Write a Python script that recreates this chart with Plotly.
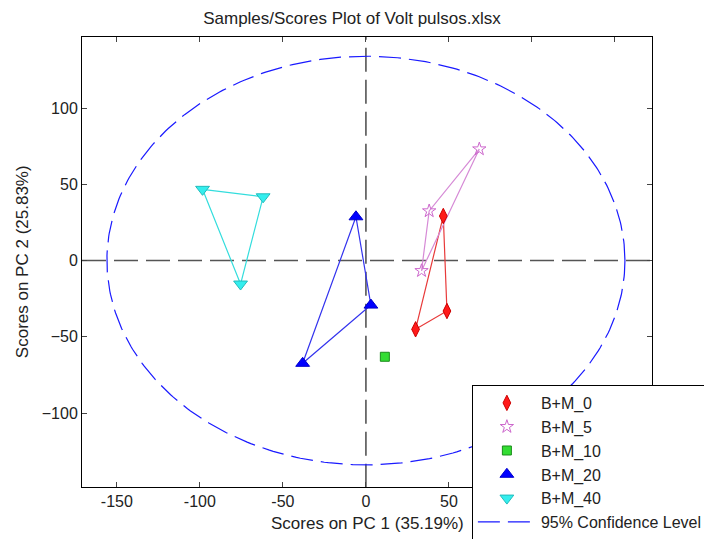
import numpy as np
import plotly.graph_objects as go

# PCA scores (PC1, PC2) per sample group
groups = ["B+M_0", "B+M_5", "B+M_10", "B+M_20", "B+M_40"]
pc1_bm0 = [46.6, 48.8, 29.9]
pc2_bm0 = [29.2, -33.1, -45.1]
pc1_bm5 = [68.3, 38.1, 33.5]
pc2_bm5 = [73.1, 32.5, -6.7]
pc1_bm10 = [11.4]
pc2_bm10 = [-63.1]
pc1_bm20 = [-6.0, 3.0, -38.1]
pc2_bm20 = [28.7, -29.2, -67.4]
pc1_bm40 = [-98.4, -61.9, -75.5]
pc2_bm40 = [46.7, 41.8, -15.4]

# 95% confidence ellipse semi-axes (PC1, PC2)
ellipse_a = 156.0
ellipse_b = 134.0

x_ticks = [-150, -100, -50, 0, 50, 100, 150]
x_tick_text = ["-150", "-100", "-50", "0", "50", "", ""]
y_ticks = [-100, -50, 0, 50, 100]

series = [
    (groups[0], pc1_bm0, pc2_bm0, "diamond-tall", "#ff1a1a", "#cc0000", "#e83a3a", 11),
    (groups[1], pc1_bm5, pc2_bm5, "star-open", "#cc66cc", "#cc66cc", "#d68ad6", 10),
    (groups[2], pc1_bm10, pc2_bm10, "square", "#33dd33", "#1a8c1a", "#33dd33", 9),
    (groups[3], pc1_bm20, pc2_bm20, "triangle-up", "#0000ff", "#0000cc", "#3333ee", 12),
    (groups[4], pc1_bm40, pc2_bm40, "triangle-down", "#33eeee", "#22bbbb", "#33dddd", 12),
]

fig = go.Figure()

# zero reference lines
fig.add_trace(go.Scatter(x=[-171, 173], y=[0, 0], mode="lines",
                         line=dict(color="#555555", width=1.6, dash="24px,8px"),
                         showlegend=False, hoverinfo="skip"))
fig.add_trace(go.Scatter(x=[0, 0], y=[-149, 147], mode="lines",
                         line=dict(color="#555555", width=1.6, dash="24px,8px"),
                         showlegend=False, hoverinfo="skip"))

# closed outlines joining the samples of each group
for name, xs, ys, sym, fill, edge, lc, size in series:
    if len(xs) > 1:
        fig.add_trace(go.Scatter(x=xs + xs[:1], y=ys + ys[:1], mode="lines",
                                 line=dict(color=lc, width=1.2),
                                 showlegend=False, hoverinfo="skip"))

for name, xs, ys, sym, fill, edge, lc, size in series:
    fig.add_trace(go.Scatter(x=xs, y=ys, mode="markers", name=name,
                             marker=dict(symbol=sym, size=size, color=fill,
                                         line=dict(color=edge, width=1))))

t = np.linspace(0, 2 * np.pi, 400)
fig.add_trace(go.Scatter(x=ellipse_a * np.cos(t), y=ellipse_b * np.sin(t),
                         mode="lines", name="95% Confidence Level",
                         line=dict(color="#1a1aff", width=1.2, dash="22px,8px")))

fig.update_layout(
    width=704, height=539,
    margin=dict(l=82, r=52, t=37, b=52, autoexpand=False),
    paper_bgcolor="white", plot_bgcolor="white",
    font=dict(family="Liberation Sans, Arial, sans-serif", size=16, color="#222222"),
    title=dict(text="Samples/Scores Plot of Volt pulsos.xlsx", x=0.5, xanchor="center",
               y=0.966, yanchor="middle", font=dict(size=17, color="#222222")),
    xaxis=dict(range=[-171, 172.3], tickvals=x_ticks, ticktext=x_tick_text,
               ticks="inside", ticklen=5, automargin=False,
               showline=True, linecolor="black", linewidth=1, mirror="ticks",
               showgrid=False, zeroline=False),
    yaxis=dict(range=[-148.5, 146.6], tickvals=y_ticks, ticks="inside", ticklen=5,
               automargin=False,
               showline=True, linecolor="black", linewidth=1, mirror="ticks",
               showgrid=False, zeroline=False),
    legend=dict(x=0.684, y=0.2267, xanchor="left", yanchor="top",
                bgcolor="white", bordercolor="black", borderwidth=1,
                itemwidth=58,
                font=dict(size=16, color="#222222"), tracegroupgap=0),
    annotations=[
        dict(text="Scores on PC 1 (35.19%)", xref="paper", yref="paper",
             x=0.5, y=-0.081, xanchor="center", yanchor="middle", showarrow=False,
             font=dict(size=17, color="#222222")),
        dict(text="Scores on PC 2 (25.83%)", xref="paper", yref="paper",
             x=-0.105, y=0.5, xanchor="center", yanchor="middle", showarrow=False,
             textangle=-90, font=dict(size=17, color="#222222")),
    ],
)

# keep the legend box at its requested spot even where it runs past the page edge
post = """
var gd = document.getElementById('{plot_id}');
var L = gd._fullLayout, gs = L._size, o = L.legend;
var lg = gd.querySelector('g.legend');
if (lg) {
  var lx = gs.l + gs.w * o.x, ly = gs.t + gs.h * (1 - o.y);
  lg.setAttribute('transform', 'translate(' + lx + ',' + ly + ')');
}
"""

fig.write_html("out.html", post_script=post)
